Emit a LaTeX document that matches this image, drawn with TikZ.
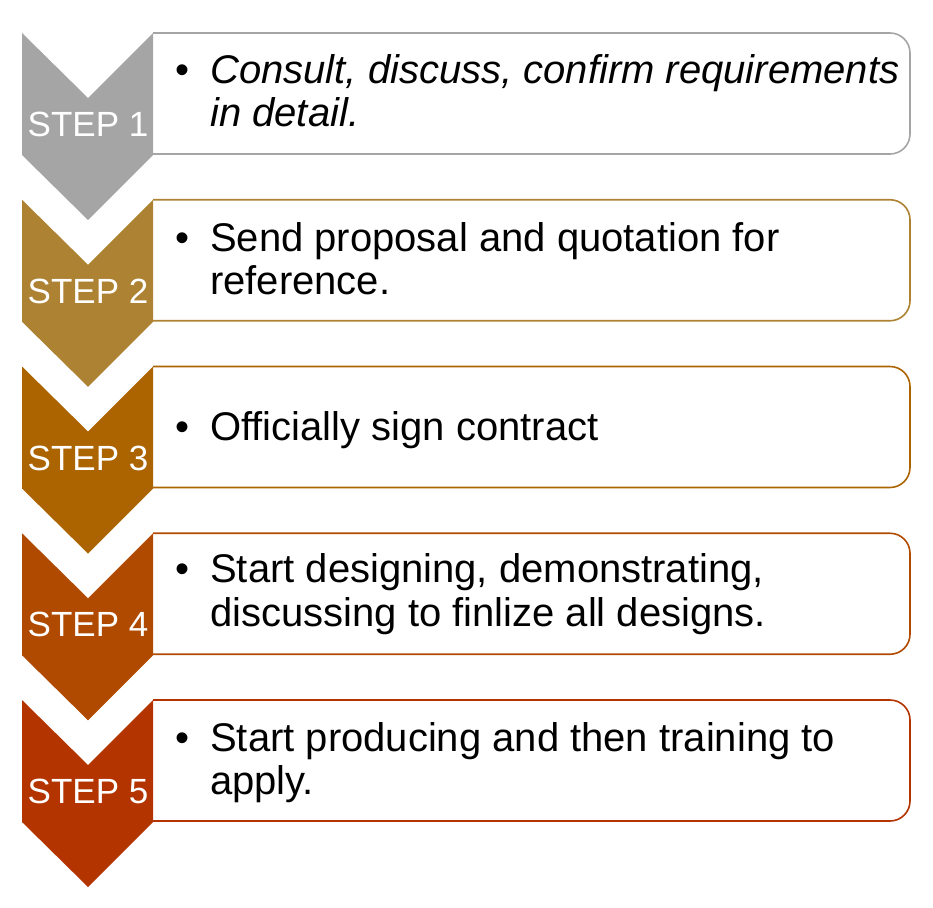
\documentclass[tikz,border=0pt]{standalone}
\usepackage{fontspec}
\setmainfont{Liberation Sans}
\definecolor{cA}{HTML}{A5A5A5}
\definecolor{cB}{HTML}{AE8233}
\definecolor{cC}{HTML}{AC6400}
\definecolor{cD}{HTML}{B04A00}
\definecolor{cE}{HTML}{B43400}
\tikzset{
  stepbox/.style={draw=#1, line width=1.6pt, rounded corners=20pt},
  chevron/.style={fill=#1},
  steplbl/.style={text=white, inner sep=0pt, font=\fontsize{35}{40}\selectfont},
  bodyline/.style={anchor=base west, inner sep=0pt, text=black, font=\fontsize{40}{43}\selectfont},
  bul/.style={anchor=base west, inner sep=0pt, text=black, font=\fontsize{40}{43}\selectfont}
}
\begin{document}
\begin{tikzpicture}[x=1pt,y=-1pt]
\useasboundingbox (0,0) rectangle (933,907);
\foreach \i/\col in {0/cA,1/cB,2/cC,3/cD,4/cE}{
  \pgfmathsetmacro{\tp}{33+\i*166.75}
  \draw[stepbox=\col] (153,\tp) -- (910,\tp) -- (910,\tp+121) -- (153,\tp+121);
  \fill[chevron=\col] (22,\tp) -- (88,\tp+65) -- (153,\tp) -- (153,\tp+122) -- (88,\tp+187) -- (22,\tp+122) -- cycle;
}
% step labels
\node[steplbl] (s1) at (88,124.5) {STEP 1};
\node[steplbl] (s2) at (88,291.25) {STEP 2};
\node[steplbl] (s3) at (88,458) {STEP 3};
\node[steplbl] (s4) at (88,624.75) {STEP 4};
\node[steplbl] (s5) at (88,791.5) {STEP 5};
% step 1
\node[bul] (b1) at (175,83.5) {•};
\node[bodyline] (t1a) at (210,83.5) {\itshape Consult, discuss, confirm requirements};
\node[bodyline] (t1b) at (210,126.5) {\itshape in detail.};
% step 2
\node[bul] (b2) at (175,251) {•};
\node[bodyline] (t2a) at (210,251) {Send proposal and quotation for};
\node[bodyline] (t2b) at (210,294) {reference.};
% step 3
\node[bul] (b3) at (175,440) {•};
\node[bodyline] (t3a) at (210,440) {Officially sign contract};
% step 4
\node[bul] (b4) at (175,582) {•};
\node[bodyline] (t4a) at (210,582) {Start designing, demonstrating,};
\node[bodyline] (t4b) at (210,626) {discussing to finlize all designs.};
% step 5
\node[bul] (b5) at (175,751) {•};
\node[bodyline] (t5a) at (210,751) {Start producing and then training to};
\node[bodyline] (t5b) at (210,794) {apply.};
\end{tikzpicture}
\end{document}
